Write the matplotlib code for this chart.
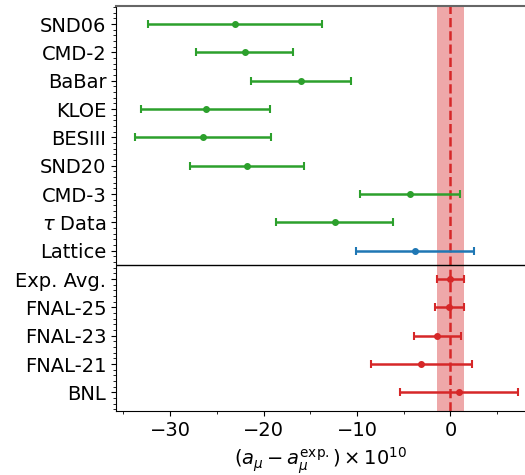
"""Forest plot of muon g-2 determinations relative to the experimental average."""

import matplotlib
matplotlib.use("Agg")
import matplotlib.pyplot as plt
from matplotlib.ticker import MultipleLocator

# top to bottom
labels = ["SND06", "CMD-2", "BaBar", "KLOE", "BESIII", "SND20", "CMD-3",
          r"$\tau$ Data", "Lattice", "Exp. Avg.", "FNAL-25", "FNAL-23",
          "FNAL-21", "BNL"]
centers = [-23.1, -22.0, -16.0, -26.2, -26.5, -21.8, -4.3, -12.4, -3.8,
           0.0, -0.1, -1.4, -3.1, 0.9]
errors = [9.3, 5.2, 5.35, 6.9, 7.3, 6.1, 5.35, 6.3, 6.3,
          1.45, 1.6, 2.5, 5.4, 6.3]
groups = ["dat"] * 8 + ["lat"] + ["exp"] * 5
group_colors = {"dat": "tab:green", "lat": "tab:blue", "exp": "tab:red"}
exp_band = 1.48

fig = plt.figure(figsize=(5.25, 4.75), dpi=100)
ax = fig.add_axes([0.221, 0.135, 0.781, 0.853])

n = len(labels)
ypos = [n - 1 - i for i in range(n)]

ax.axvspan(-exp_band, exp_band, color="tab:red", alpha=0.4, lw=0, zorder=1)
ax.axvline(0, color="tab:red", ls="--", lw=1.8, zorder=2)

for y, c, e, g in zip(ypos, centers, errors, groups):
    ax.errorbar(c, y, xerr=e, fmt="o", ms=4, color=group_colors[g],
                elinewidth=1.8, capsize=3, capthick=1.5, zorder=3)

ax.axhline(4.5, color="black", lw=1, zorder=4)

ax.set_yticks(ypos)
ax.set_yticklabels(labels, fontsize=14)
ax.yaxis.set_minor_locator(MultipleLocator(0.2))
ax.set_ylim(-0.65, n - 0.35)

ax.set_xlim(-35.8, 8.1)
ax.xaxis.set_major_locator(MultipleLocator(10))
ax.xaxis.set_minor_locator(MultipleLocator(5))
ax.tick_params(axis="x", labelsize=14)
ax.set_xlabel(r"$(a_\mu - a_\mu^{\mathrm{exp.}})\times 10^{10}$", fontsize=14)

ax.spines["right"].set_visible(False)
ax.spines["top"].set_color("0.4")
ax.spines["top"].set_linewidth(1.5)

fig.savefig("out.png", dpi=100)
